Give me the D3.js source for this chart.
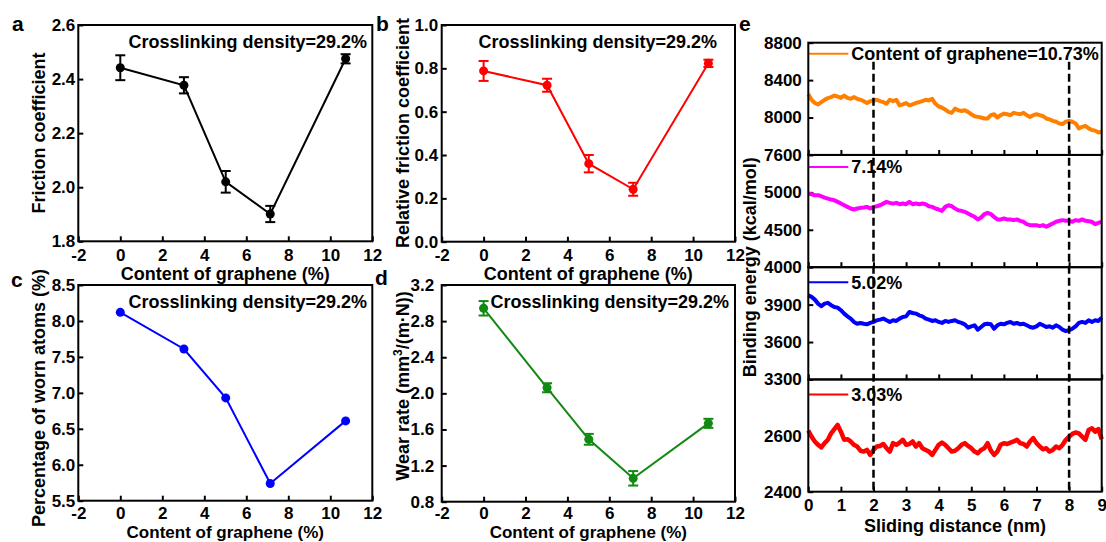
<!DOCTYPE html>
<html>
<head>
<meta charset="utf-8">
<script src="https://cdn.jsdelivr.net/npm/d3@7"></script>
<style>
  body { margin: 0; background: #fff; }
  svg text { font-family: "Liberation Sans", Arial, sans-serif; font-weight: bold; fill: #000; }
</style>
</head>
<body>
<svg id="fig" width="1106" height="542"></svg>
<script>
// ---------- data: tribology vs. graphene content ----------
const grapheneContent = [0, 3.03, 5.02, 7.14, 10.73];
const contentTicks = [-2, 0, 2, 4, 6, 8, 10, 12];
const densityNote = "Crosslinking density=29.2%";

const frictionCoef    = [2.442, 2.377, 2.020, 1.901, 2.475];
const frictionCoefErr = [0.046, 0.030, 0.040, 0.030, 0.017];
const frictionTicks   = [1.8, 2.0, 2.2, 2.4, 2.6];

const relFriction    = [0.788, 0.722, 0.360, 0.242, 0.823];
const relFrictionErr = [0.046, 0.030, 0.040, 0.030, 0.017];
const relFrictionTicks = [0.0, 0.2, 0.4, 0.6, 0.8, 1.0];

const wornAtoms  = [8.12, 7.61, 6.93, 5.74, 6.61];
const wornTicks  = [5.5, 6.0, 6.5, 7.0, 7.5, 8.0, 8.5];

const wearRate    = [2.942, 2.062, 1.491, 1.059, 1.668];
const wearRateErr = [0.080, 0.050, 0.060, 0.080, 0.050];
const wearTicks   = [0.8, 1.2, 1.6, 2.0, 2.4, 2.8, 3.2];

// ---------- data: binding energy along the sliding path ----------
const distanceStep  = 0.1;   // nm between samples
const distanceTicks = [0, 1, 2, 3, 4, 5, 6, 7, 8, 9];
const markedDistances = [2, 8];
const traceLabels = ["Content of graphene=10.73%", "7.14%", "5.02%", "3.03%"];
const energyDomains = [[7600, 8800], [4000, 5500], [3300, 4200], [2400, 2800]];
const energyTicks = [[7600, 8000, 8400, 8800], [4000, 4500, 5000], [3300, 3600, 3900], [2400, 2600]];

const energy1073 = [
  8250,8190,8155,8140,8165,8190,8207,8218,8235,8225,
  8210,8235,8210,8200,8218,8200,8190,8175,8155,8175,
  8183,8190,8175,8165,8147,8190,8175,8190,8130,8140,
  8155,8130,8140,8155,8165,8175,8190,8183,8200,8147,
  8120,8105,8085,8060,8050,8095,8077,8070,8077,8060,
  8035,8014,8007,8000,7990,7990,8025,8035,8000,8025,
  8042,8035,8025,8050,8042,8035,8050,8025,8007,8025,
  8035,8025,8014,7990,7980,7965,7955,7937,7930,7955,
  7965,7955,7937,7884,7900,7910,7884,7867,7860,7840,
  7850];
const energy714 = [
  4984,4975,4962,4962,4948,4930,4917,4904,4895,4873,
  4850,4828,4806,4784,4771,4784,4793,4797,4806,4784,
  4806,4815,4828,4850,4873,4860,4850,4860,4842,4850,
  4842,4873,4842,4850,4842,4850,4842,4815,4806,4784,
  4771,4753,4806,4828,4815,4784,4762,4753,4740,4718,
  4695,4673,4638,4664,4709,4726,4709,4673,4638,4638,
  4651,4638,4638,4629,4638,4620,4607,4575,4562,4562,
  4562,4549,4562,4540,4562,4584,4607,4620,4629,4620,
  4620,4607,4629,4620,4638,4620,4615,4607,4575,4593,
  4607];
const energy502 = [
  3975,3962,3940,3908,3887,3908,3914,3895,3881,3876,
  3855,3828,3806,3788,3761,3747,3753,3747,3742,3753,
  3761,3774,3780,3788,3774,3761,3774,3769,3788,3801,
  3806,3841,3833,3828,3814,3806,3788,3780,3769,3774,
  3761,3753,3769,3761,3769,3774,3761,3753,3742,3715,
  3726,3734,3699,3721,3742,3747,3742,3707,3734,3747,
  3742,3753,3761,3747,3753,3742,3747,3734,3721,3715,
  3726,3747,3734,3721,3726,3715,3734,3721,3699,3688,
  3694,3707,3726,3753,3761,3753,3774,3761,3774,3769,
  3796];
const energy303 = [
  2618,2596,2579,2567,2558,2573,2585,2608,2623,2638,
  2614,2585,2587,2579,2567,2561,2546,2543,2549,2531,
  2549,2561,2563,2570,2555,2543,2573,2567,2575,2585,
  2567,2570,2579,2561,2573,2555,2549,2543,2531,2549,
  2567,2575,2567,2555,2543,2546,2555,2567,2573,2563,
  2555,2543,2537,2549,2555,2573,2546,2531,2543,2567,
  2573,2570,2575,2579,2585,2573,2570,2561,2579,2591,
  2573,2561,2551,2555,2543,2549,2561,2555,2567,2585,
  2596,2606,2611,2608,2596,2585,2620,2626,2614,2623,
  2587];
const energySeries = [energy1073, energy714, energy502, energy303];
const traceColors = ["#ff8000", "#ff00ff", "#0000ff", "#ff0000"];
const traceWidths = [4, 4, 4, 4.5];

// ---------- drawing ----------
const svg = d3.select("#fig");
svg.append("rect").attr("width", 1106).attr("height", 542).attr("fill", "#fff");

const FONT = 18;
const TICK_FONT = 17;
const plainNumber = d => String(d);   // keeps the ASCII hyphen on negative ticks

function styleAxis(g) {
  g.select(".domain").remove();
  g.selectAll(".tick line").attr("stroke", "#000").attr("stroke-width", 2);
  g.selectAll(".tick text").attr("font-size", TICK_FONT).attr("fill", "#000")
    .attr("font-family", "Liberation Sans, Arial, sans-serif").attr("font-weight", "bold");
}

function pointPanel(p) {
  const [x0, y0, x1, y1] = p.box;
  const x = d3.scaleLinear().domain([-2, 12]).range([x0, x1]);
  const y = d3.scaleLinear().domain(d3.extent(p.ticks)).range([y1, y0]);
  const g = svg.append("g");

  g.append("g").attr("transform", `translate(0,${y1})`)
    .call(d3.axisBottom(x).tickValues(contentTicks).tickFormat(plainNumber)
      .tickSizeInner(-5).tickSizeOuter(0).tickPadding(p.xPad))
    .call(styleAxis);
  g.append("g").attr("transform", `translate(${x0},0)`)
    .call(d3.axisLeft(y).tickValues(p.ticks).tickFormat(d3.format(".1f"))
      .tickSizeInner(-5).tickSizeOuter(0).tickPadding(p.yPad))
    .call(styleAxis);

  g.append("rect").attr("x", x0).attr("y", y0).attr("width", x1 - x0).attr("height", y1 - y0)
    .attr("fill", "none").attr("stroke", "#000").attr("stroke-width", 2);

  const idx = d3.range(grapheneContent.length);
  g.append("path")
    .attr("d", d3.line().x(i => x(grapheneContent[i])).y(i => y(p.values[i]))(idx))
    .attr("fill", "none").attr("stroke", p.color).attr("stroke-width", 2);

  if (p.errors) {
    const eb = g.append("g").attr("stroke", p.color).attr("stroke-width", 2);
    idx.forEach(i => {
      const cx = x(grapheneContent[i]);
      const top = y(p.values[i] + p.errors[i]);
      const bot = y(p.values[i] - p.errors[i]);
      eb.append("line").attr("x1", cx).attr("x2", cx).attr("y1", top).attr("y2", bot);
      eb.append("line").attr("x1", cx - 5).attr("x2", cx + 5).attr("y1", top).attr("y2", top);
      eb.append("line").attr("x1", cx - 5).attr("x2", cx + 5).attr("y1", bot).attr("y2", bot);
    });
  }
  g.selectAll("circle.pt").data(idx).join("circle")
    .attr("cx", i => x(grapheneContent[i])).attr("cy", i => y(p.values[i]))
    .attr("r", 4.5).attr("fill", p.color);

  g.append("text").attr("x", p.noteX).attr("y", y0 + 23).attr("font-size", FONT)
    .attr("text-anchor", "end").text(densityNote);

  g.append("text").attr("x", (x0 + x1) / 2).attr("y", p.titleY).attr("font-size", p.titleFont)
    .attr("text-anchor", "middle").text("Content of graphene (%)");

  const yl = g.append("text").attr("transform", `translate(${p.labelX},${p.labelY}) rotate(-90)`)
    .attr("font-size", FONT).attr("text-anchor", "middle");
  p.label(yl);

  g.append("text").attr("x", p.letter[1]).attr("y", p.letter[2]).attr("font-size", 21)
    .text(p.letter[0]);
}

pointPanel({
  box: [78.3, 25, 372.3, 241.3], ticks: frictionTicks, values: frictionCoef, errors: frictionCoefErr,
  color: "#000", noteX: 367, labelX: 45, labelY: 133, titleY: 280, titleFont: 18, xPad: 7.5, yPad: 3,
  label: t => t.text("Friction coefficient"), letter: ["a", 12, 31]
});
pointPanel({
  box: [441.7, 25, 735, 241.7], ticks: relFrictionTicks, values: relFriction, errors: relFrictionErr,
  color: "#ff0000", noteX: 717, labelX: 409, labelY: 133, titleY: 280, titleFont: 18, xPad: 7.5, yPad: 3.5,
  label: t => t.text("Relative friction coefficient"), letter: ["b", 376, 31]
});
pointPanel({
  box: [78.3, 285, 372.3, 500.7], ticks: wornTicks, values: wornAtoms, errors: null,
  color: "#0000ff", noteX: 367, labelX: 45, labelY: 398, titleY: 538.3, titleFont: 17, xPad: 6, yPad: 3,
  label: t => t.text("Percentage of worn atoms (%)"), letter: ["c", 11, 287]
});
pointPanel({
  box: [441.7, 285, 735, 501.7], ticks: wearTicks, values: wearRate, errors: wearRateErr,
  color: "#108a10", noteX: 729, labelX: 409, labelY: 386, titleY: 538.3, titleFont: 17, xPad: 5.5, yPad: 7.5,
  label: t => {
    t.append("tspan").text("Wear rate (mm");
    t.append("tspan").attr("dy", -7).attr("font-size", 12).text("3");
    t.append("tspan").attr("dy", 7).text("/(m\u00b7N))");
  },
  letter: ["d", 375, 285]
});

// ---------- panel e: stacked binding-energy traces ----------
(function () {
  const left = 808.3, right = 1101.7, top = 42.7, bottom = 491.7;
  const n = energySeries.length;
  const h = (bottom - top) / n;
  const x = d3.scaleLinear().domain([0, 9]).range([left, right]);
  const g = svg.append("g");
  const legendOffsets = [11, 12, 15, 15];

  energySeries.forEach((vals, k) => {
    const t = top + k * h, b = t + h;
    const y = d3.scaleLinear().domain(energyDomains[k]).range([b, t]);
    const sg = g.append("g");

    sg.append("g").attr("transform", `translate(0,${b})`)
      .call(d3.axisBottom(x).tickValues(distanceTicks)
        .tickFormat(k === n - 1 ? plainNumber : () => "")
        .tickSizeInner(-5).tickSizeOuter(0).tickPadding(7))
      .call(styleAxis);
    sg.append("g").attr("transform", `translate(${left},0)`)
      .call(d3.axisLeft(y).tickValues(energyTicks[k]).tickFormat(plainNumber)
        .tickSizeInner(-5).tickSizeOuter(0).tickPadding(6.5))
      .call(styleAxis);

    sg.append("path")
      .attr("d", d3.line().x((d, i) => x(i * distanceStep)).y(d => y(d))(vals))
      .attr("fill", "none").attr("stroke", traceColors[k]).attr("stroke-width", traceWidths[k])
      .attr("stroke-linejoin", "round");

    const ly = t + legendOffsets[k];
    sg.append("line").attr("x1", left).attr("x2", left + 40).attr("y1", ly).attr("y2", ly)
      .attr("stroke", traceColors[k]).attr("stroke-width", 2);
    sg.append("text").attr("x", left + 43).attr("y", ly + 6.5).attr("font-size", FONT)
      .text(traceLabels[k]);

    sg.append("rect").attr("x", left).attr("y", t).attr("width", right - left).attr("height", h)
      .attr("fill", "none").attr("stroke", "#000").attr("stroke-width", 2);
  });

  g.selectAll("line.mark").data(markedDistances).join("line")
    .attr("x1", d => x(d)).attr("x2", d => x(d))
    .attr("y1", top + 19).attr("y2", bottom)
    .attr("stroke", "#000").attr("stroke-width", 2.5).attr("stroke-dasharray", "8,4");

  g.append("text").attr("x", (left + right) / 2).attr("y", 532).attr("font-size", FONT)
    .attr("text-anchor", "middle").text("Sliding distance (nm)");
  g.append("text").attr("transform", `translate(756,${(top + bottom) / 2}) rotate(-90)`)
    .attr("font-size", FONT).attr("text-anchor", "middle").text("Binding energy (kcal/mol)");
  g.append("text").attr("x", 739).attr("y", 31).attr("font-size", 21).text("e");
})();
</script>
</body>
</html>
